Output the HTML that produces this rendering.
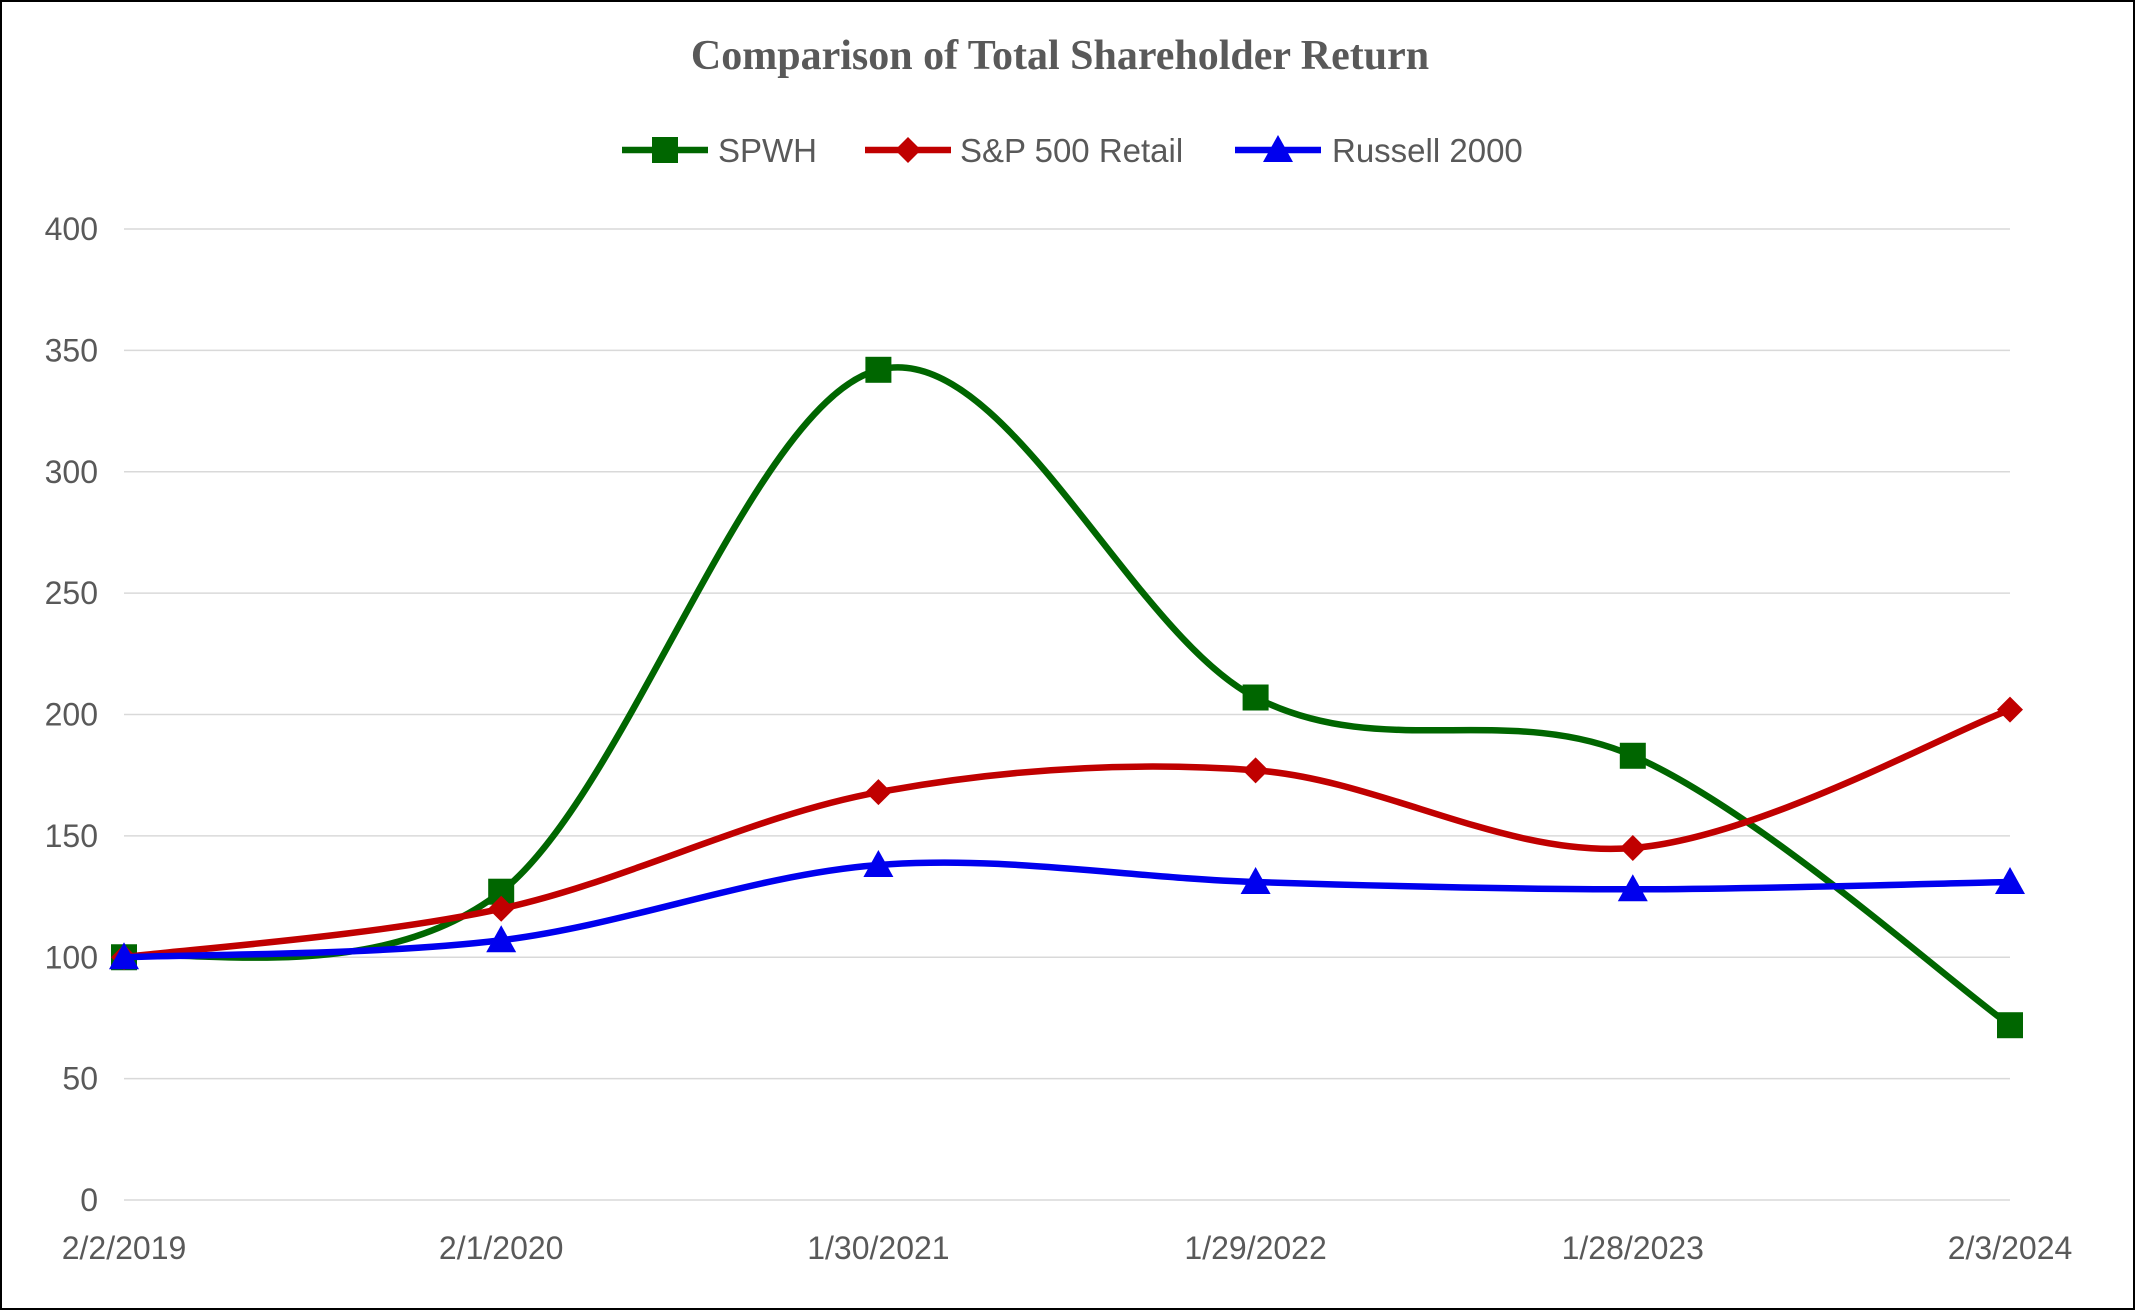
<!DOCTYPE html>
<html><head><meta charset="utf-8"><style>
html,body{margin:0;padding:0;background:#fff}
svg{display:block}
</style></head><body>
<svg width="2135" height="1310" viewBox="0 0 2135 1310" xmlns="http://www.w3.org/2000/svg">
<rect x="1" y="1" width="2133" height="1308" fill="#fff" stroke="#000" stroke-width="2"/>
<text x="1060" y="69" text-anchor="middle" font-family="Liberation Serif, serif" font-weight="bold" font-size="42" fill="#595959">Comparison of Total Shareholder Return</text>
<g id="legend"></g>
<g id="grid"></g>
<g id="yaxis"></g>
<g id="xaxis"></g>
<g id="series"></g>
</svg>
<script>
const categories = ["2/2/2019","2/1/2020","1/30/2021","1/29/2022","1/28/2023","2/3/2024"];
const spwh = [100,127,342,207,183,72];
const sp500Retail = [100,120,168,177,145,202];
const russell2000 = [100,107,138,131,128,131];
const yTicks = [0,50,100,150,200,250,300,350,400];
const seriesNames = ["SPWH","S&P 500 Retail","Russell 2000"];

const NS="http://www.w3.org/2000/svg";
const X0=124,X1=2010,Y0=1200,Y1=229,YMAX=400;
const xs=i=>X0+(X1-X0)*i/(categories.length-1);
const ys=v=>Y0-(Y0-Y1)*v/YMAX;
function mk(tag,attrs,parent){const e=document.createElementNS(NS,tag);for(const k in attrs)e.setAttribute(k,attrs[k]);parent.appendChild(e);return e;}
const grid=document.getElementById('grid'),yax=document.getElementById('yaxis'),xax=document.getElementById('xaxis'),ser=document.getElementById('series'),leg=document.getElementById('legend');
yTicks.forEach(t=>{
  const l=mk('line',{x1:X0,x2:X1,y1:ys(t),y2:ys(t),stroke:'#d9d9d9','stroke-width':1.5},grid);
  
  
  const tx=mk('text',{x:98,y:ys(t)+11,'text-anchor':'end','font-family':'Liberation Sans, sans-serif','font-size':32,fill:'#595959'},yax);
  tx.textContent=t;
  
  
});
categories.forEach((c,i)=>{
  const tx=mk('text',{x:xs(i),y:1259,'text-anchor':'middle','font-family':'Liberation Sans, sans-serif','font-size':32,fill:'#595959'},xax);
  tx.textContent=c;
  
  
});
function path(vals){
  const p=vals.map((v,i)=>[xs(i),ys(v)]);
  let d='M'+p[0][0]+','+p[0][1];
  for(let i=0;i<p.length-1;i++){
    const a=p[i-1]||p[i],b=p[i],c=p[i+1],e=p[i+2]||c;
    const c1=[b[0]+(c[0]-a[0])/6,b[1]+(c[1]-a[1])/6],c2=[c[0]-(e[0]-b[0])/6,c[1]-(e[1]-b[1])/6];
    d+=` C${c1[0]},${c1[1]} ${c2[0]},${c2[1]} ${c[0]},${c[1]}`;
  }
  return d;
}
function marker(type,x,y,color,g){
  if(type==='sq')return mk('rect',{x:x-13,y:y-13,width:26,height:26,fill:color},g);
  if(type==='di')return mk('polygon',{points:`${x},${y-13} ${x+13},${y} ${x},${y+13} ${x-13},${y}`,fill:color},g);
  return mk('polygon',{points:`${x},${y-15} ${x+15},${y+12} ${x-15},${y+12}`,fill:color},g);
}
const defs=[[spwh,'#006600','sq','spwh'],[sp500Retail,'#c00000','di','sp500-retail'],[russell2000,'#0000ee','tr','russell-2000']];
defs.forEach(([vals,col,m,nm])=>{
  const g=mk('g',{},ser);
  
  
  const pa=mk('path',{d:path(vals),fill:'none',stroke:col,'stroke-width':6.5},g);
  
  
  vals.forEach((v,i)=>{
    const mm=marker(m,xs(i),ys(v),col,g);
    
    
  });
});
const legPos=[[622,718],[865,960],[1235,1332]];
defs.forEach(([vals,col,m,nm],k)=>{
  const g=mk('g',{},leg);
  
  
  const [lx,tx]=legPos[k];
  mk('line',{x1:lx,x2:lx+86,y1:150,y2:150,stroke:col,'stroke-width':6.5},g);
  marker(m,lx+43,150,col,g);
  const t=mk('text',{x:tx,y:162,'font-family':'Liberation Sans, sans-serif','font-size':33,fill:'#595959'},g);
  t.textContent=seriesNames[k];
});
</script>
</body></html>
